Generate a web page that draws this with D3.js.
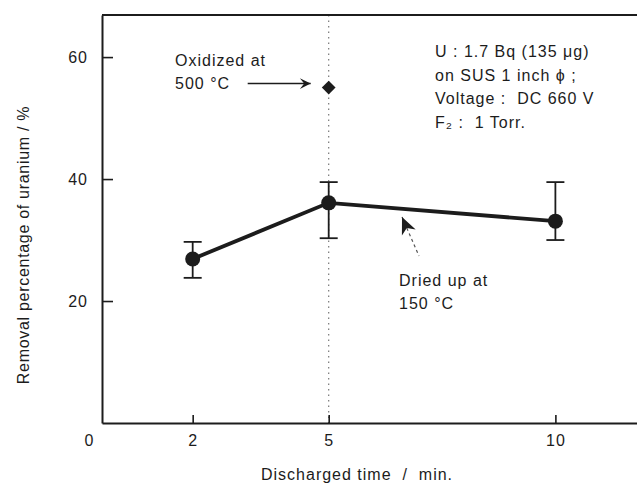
<!DOCTYPE html>
<html>
<head>
<meta charset="utf-8">
<script src="https://cdn.jsdelivr.net/npm/d3@7"></script>
<style>
  body { margin: 0; background: #fff; }
  svg { display: block; font-family: "Liberation Sans", Arial, sans-serif; }
  text { white-space: pre; }
</style>
</head>
<body>
<div id="chart"></div>
<script>
// values
const times = [2, 5, 10];
const removal = [26.9, 36.1, 33.1];
const errHigh = [29.7, 39.5, 39.5];
const errLow = [23.8, 30.3, 30.0];
const oxidizedTime = [5];
const oxidizedRemoval = [55];
const xTicks = [0, 2, 5, 10];
const yTicks = [20, 40, 60];
const infoLines = ["U : 1.7 Bq (135 \u03BCg)", "on SUS 1 inch \u03D5 ;", "Voltage :  DC 660 V", "F\u2082 :  1 Torr."];

const width = 637, height = 483;
const ink = "#1c1c1c";
const fontSize = "16px";

const x = d3.scaleLinear().domain([0, 11.8]).range([102, 637]);
const y = d3.scaleLinear().domain([0, 66.9]).range([423, 15]);

const svg = d3.select("#chart").append("svg")
    .attr("width", width)
    .attr("height", height);

svg.append("defs").append("marker")
    .attr("id", "openArrow")
    .attr("viewBox", "0 0 12 12")
    .attr("refX", 11).attr("refY", 6)
    .attr("markerWidth", 13).attr("markerHeight", 13)
    .attr("markerUnits", "userSpaceOnUse")
    .attr("orient", "auto")
    .append("path")
    .attr("d", "M1,1 L11,6 L1,11 L5,6 Z")
    .attr("fill", ink);

// dotted guide at 5 min
svg.append("line")
    .attr("x1", x(5)).attr("x2", x(5))
    .attr("y1", y(66.9)).attr("y2", y(0))
    .attr("stroke", "#777")
    .attr("stroke-width", 1.2)
    .attr("stroke-dasharray", "1.5,4");

// top border
svg.append("line")
    .attr("x1", x(0)).attr("x2", width)
    .attr("y1", y(66.9)).attr("y2", y(66.9))
    .attr("stroke", ink).attr("stroke-width", 2);

// axes
const xAxis = svg.append("g")
    .attr("transform", `translate(0,${y(0)})`)
    .call(d3.axisBottom(x).tickValues(xTicks).tickSizeInner(-8).tickSizeOuter(0).tickPadding(12));
const yAxis = svg.append("g")
    .attr("transform", `translate(${x(0)},0)`)
    .call(d3.axisLeft(y).tickValues(yTicks).tickSizeInner(-11).tickSizeOuter(0).tickPadding(14));

[xAxis, yAxis].forEach(g => {
    g.select(".domain").attr("stroke", ink).attr("stroke-width", 2);
    g.selectAll(".tick line").attr("stroke", ink).attr("stroke-width", 1.6);
    g.selectAll(".tick text")
        .attr("fill", ink)
        .style("font-size", fontSize)
        .style("letter-spacing", "1px")
        .style("font-family", "'Liberation Sans', Arial, sans-serif");
});
xAxis.selectAll(".tick").filter(d => d === 0).select("line").remove();
xAxis.selectAll(".tick").filter(d => d === 0).select("text").attr("dx", -13);

// axis titles
svg.append("text")
    .attr("x", 357).attr("y", 480)
    .attr("text-anchor", "middle")
    .attr("fill", ink)
    .style("font-size", fontSize)
    .style("letter-spacing", "1px")
    .text("Discharged time  /  min.");
svg.append("text")
    .attr("transform", `translate(29,${245}) rotate(-90)`)
    .attr("text-anchor", "middle")
    .attr("fill", ink)
    .style("font-size", fontSize)
    .style("letter-spacing", "0.7px")
    .text("Removal percentage of uranium / %");

// data line
const pts = times.map((t, i) => ({ t, v: removal[i], hi: errHigh[i], lo: errLow[i] }));
svg.append("path")
    .datum(pts)
    .attr("fill", "none")
    .attr("stroke", ink)
    .attr("stroke-width", 3.8)
    .attr("d", d3.line().x(d => x(d.t)).y(d => y(d.v)));

// error bars
const eb = svg.append("g").selectAll("g").data(pts).enter().append("g")
    .attr("stroke", ink).attr("stroke-width", 1.8);
eb.append("line")
    .attr("x1", d => x(d.t)).attr("x2", d => x(d.t))
    .attr("y1", d => y(d.hi)).attr("y2", d => y(d.lo));
eb.append("line")
    .attr("x1", d => x(d.t) - 9).attr("x2", d => x(d.t) + 9)
    .attr("y1", d => y(d.hi)).attr("y2", d => y(d.hi));
eb.append("line")
    .attr("x1", d => x(d.t) - 9).attr("x2", d => x(d.t) + 9)
    .attr("y1", d => y(d.lo)).attr("y2", d => y(d.lo));

svg.append("g").selectAll("circle").data(pts).enter().append("circle")
    .attr("cx", d => x(d.t)).attr("cy", d => y(d.v))
    .attr("r", 7.5)
    .attr("fill", ink);

// oxidized point
svg.append("g").selectAll("path").data(oxidizedTime).enter().append("path")
    .attr("transform", (d, i) => `translate(${x(d)},${y(oxidizedRemoval[i])})`)
    .attr("d", d3.symbol().type(d3.symbolDiamond2).size(120))
    .attr("fill", ink);

// annotations
const ann = svg.append("g").attr("fill", ink)
    .style("font-size", fontSize)
    .style("letter-spacing", "1px");
ann.append("text").attr("x", 175).attr("y", 66).text("Oxidized at");
ann.append("text").attr("x", 175).attr("y", 89).text("500 \u00B0C");
svg.append("line")
    .attr("x1", x(5) - 81).attr("x2", x(5) - 18)
    .attr("y1", y(oxidizedRemoval[0]) - 4).attr("y2", y(oxidizedRemoval[0]) - 4)
    .attr("stroke", ink).attr("stroke-width", 1.6)
    .attr("marker-end", "url(#openArrow)");

ann.append("text").attr("x", 399).attr("y", 286).text("Dried up at");
ann.append("text").attr("x", 399).attr("y", 309).text("150 \u00B0C");

// pointer arrow toward the line: tip at (402,217), tail down-right
const tip = [402, 217], tail = [419, 256];
const ang = Math.atan2(tail[1] - tip[1], tail[0] - tip[0]) * 180 / Math.PI;
svg.append("line")
    .attr("x1", tip[0]).attr("y1", tip[1])
    .attr("x2", tail[0]).attr("y2", tail[1])
    .attr("stroke", "#555").attr("stroke-width", 1.2)
    .attr("stroke-dasharray", "3,3");
svg.append("path")
    .attr("transform", `translate(${tip[0]},${tip[1]}) rotate(${ang})`)
    .attr("d", "M0,0 L17,-7.5 L12,0 L17,7.5 Z")
    .attr("fill", ink);

ann.selectAll("text.info").data(infoLines).enter().append("text")
    .attr("class", "info")
    .attr("x", 435)
    .attr("y", (d, i) => 57 + i * 23.7)
    .text(d => d);
</script>
</body>
</html>
